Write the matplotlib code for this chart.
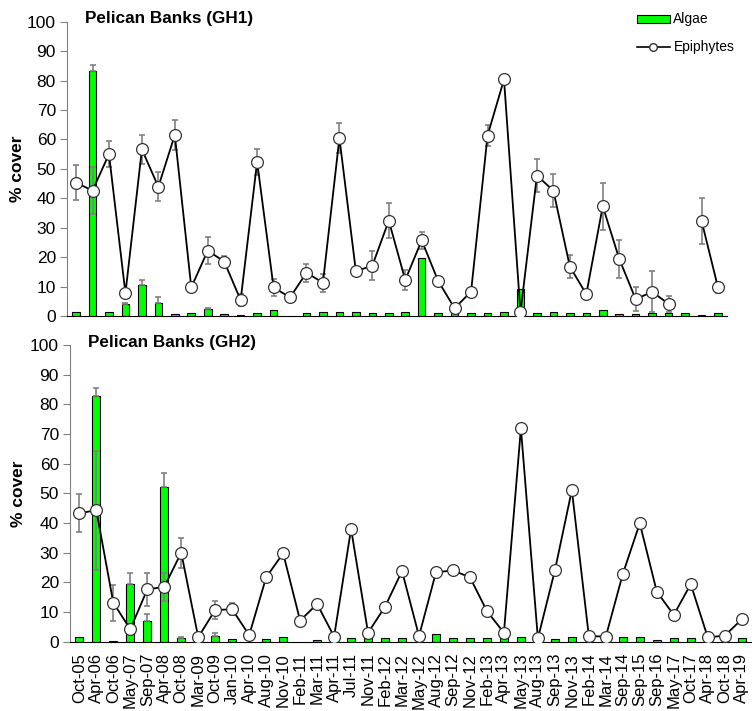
import numpy as np
import matplotlib
matplotlib.use("Agg")
import matplotlib.pyplot as plt
from matplotlib.patches import Patch
from matplotlib.lines import Line2D

plt.rcParams['font.family'] = ['Liberation Sans', 'DejaVu Sans']

dates = ["Oct-05", "Apr-06", "Oct-06", "May-07", "Sep-07", "Apr-08", "Oct-08", "Mar-09",
         "Oct-09", "Jan-10", "Apr-10", "Aug-10", "Nov-10", "Feb-11", "Mar-11", "Apr-11",
         "Jul-11", "Nov-11", "Feb-12", "Mar-12", "May-12", "Aug-12", "Sep-12", "Nov-12",
         "Feb-13", "Apr-13", "May-13", "Aug-13", "Sep-13", "Nov-13", "Feb-14", "Mar-14",
         "Sep-14", "Sep-15", "Sep-16", "May-17", "Oct-17", "Apr-18", "Oct-18", "Apr-19"]

nan = np.nan
# GH1
gh1_algae = [1.5, 83.2, 1.5, 4.0, 10.5, 4.5, 0.5, 0.9, 2.3, 0.5, 0.4, 0.9, 2.0, nan, 1.1, 1.5,
             1.5, 1.5, 0.9, 0.9, 1.2, 19.8, 0.9, 0.9, 0.9, 1.1, 1.5, 9.2, 0.9, 1.5, 0.9, 0.9,
             2.0, 0.5, 0.5, 0.9, 0.9, 0.9, 0.3, 0.9]
gh1_algae_err = [0, 2.2, 0, 0.5, 1.7, 2.0, 0, 0, 0.5, 0, 0, 0, 0, 0, 0, 0,
                 0, 0, 0, 0, 0, 0, 0, 0, 0, 0, 0, 0, 0, 0, 0, 0,
                 0, 0, 0, 0, 0, 0, 0, 0]
gh1_epi = [45.3, 42.6, 55.0, 7.7, 56.6, 43.9, 61.5, 9.7, 22.2, 18.5, 5.4, 52.4, 9.7, 6.3, 14.7, 11.3,
           60.5, 15.2, 17.1, 32.4, 12.2, 25.7, 11.9, 2.6, 8.3, 61.3, 80.4, 1.2, 47.7, 42.6, 16.8, 7.4,
           37.3, 19.4, 5.7, 8.2, 4.1, nan, 32.4, 9.7]
gh1_epi_err = [6.0, 8.0, 4.5, 1.0, 4.8, 5.0, 5.0, 0, 4.6, 2.0, 2.0, 4.5, 2.8, 0, 3.0, 3.0,
               5.0, 1.5, 5.0, 6.0, 3.5, 3.0, 0, 0, 0, 3.5, 0, 0, 5.6, 5.5, 4.0, 1.5,
               8.0, 6.4, 4.0, 7.0, 2.8, 0, 7.8, 2.0]
# GH2
gh2_algae = [1.7, 82.9, 0.2, 19.3, 7.1, 52.2, 1.1, nan, 2.0, 0.9, nan, 0.9, 1.5, nan, 0.5, nan,
             1.1, 1.1, 1.1, 1.1, nan, 2.6, 1.1, 1.1, 1.1, 1.1, 1.5, nan, 0.8, 1.5, nan, nan,
             1.7, 1.5, 0.4, 1.1, 1.1, nan, nan, 1.1]
gh2_algae_err = [0, 2.7, 0, 4.0, 2.2, 4.7, 0.5, 0, 1.0, 0, 0, 0, 0, 0, 0, 0,
                 0, 0, 0, 0, 0, 0, 0, 0, 0, 0, 0, 0, 0, 0, 0, 0,
                 0, 0, 0, 0, 0, 0, 0, 0]
gh2_epi = [43.3, 44.3, 13.1, 4.2, 17.6, 18.5, 30.0, 1.5, 10.7, 10.9, 2.2, 21.7, 29.8, 7.1, 12.7, 1.7,
           38.0, 3.0, 11.8, 23.8, 1.9, 23.4, 24.0, 21.7, 10.3, 3.0, 71.9, 1.1, 24.0, 51.1, 1.9, 1.7,
           22.8, 39.9, 16.9, 9.0, 19.4, 1.5, 2.0, 7.5]
gh2_epi_err = [6.5, 20.0, 6.0, 0, 5.5, 4.7, 5.0, 0, 3.0, 2.0, 0, 0, 0, 0, 0, 0,
               0, 0, 0, 0, 0, 0, 0, 0, 0, 0, 0, 0, 0, 0, 0, 0,
               0, 0, 0, 0, 0, 0, 0, 0]

fig = plt.figure(figsize=(7.52, 7.11), dpi=100)
ax1 = fig.add_axes([0.0891, 0.5556, 0.8777, 0.4139])
ax2 = fig.add_axes([0.0931, 0.0975, 0.9056, 0.4173])

x = np.arange(len(dates))
GREEN = '#00FF00'
GRAY = '#808080'

def draw(ax, algae, aerr, epi, eerr, title, show_x, lab_x):
    algae = np.array(algae, dtype=float)
    aerr = np.array(aerr, dtype=float)
    epi = np.array(epi, dtype=float)
    eerr = np.array(eerr, dtype=float)
    ax.bar(x, algae, width=0.46, color=GREEN, edgecolor='black', linewidth=0.8, zorder=2)
    m = aerr > 0
    ax.errorbar(x[m], algae[m], yerr=[np.zeros(m.sum()), aerr[m]], fmt='none',
                ecolor=GRAY, elinewidth=1.2, capsize=2.5, capthick=1.2, zorder=3)
    m2 = (eerr > 0) & ~np.isnan(epi)
    ax.errorbar(x[m2], epi[m2], yerr=eerr[m2], fmt='none',
                ecolor=GRAY, elinewidth=1.2, capsize=2.5, capthick=1.2, zorder=3)
    ax.plot(x, epi, color='black', linewidth=1.3, marker='o', markersize=8.5,
            markerfacecolor='white', markeredgecolor='#333333', markeredgewidth=0.9, zorder=4)
    ax.set_xlim(-0.55, len(dates) - 0.45)
    ax.set_ylim(0, 100)
    ax.set_yticks(np.arange(0, 101, 10))
    ax.tick_params(axis='y', labelsize=12.5, length=5, color=GRAY, direction='out', pad=3)
    ax.spines['top'].set_visible(False)
    ax.spines['right'].set_visible(False)
    ax.spines['left'].set_color(GRAY)
    ax.spines['bottom'].set_color('black')
    ax.set_ylabel('% cover', fontsize=12.5, fontweight='bold')
    ax.yaxis.set_label_coords(lab_x, 0.5)
    ax.text(0.027, 1.01, title, transform=ax.transAxes, fontsize=12.3, fontweight='bold',
            va='center', ha='left')
    if show_x:
        ax.set_xticks(x)
        ax.set_xticklabels(dates, rotation=90, fontsize=12)
        ax.tick_params(axis='x', length=0, pad=8)
    else:
        ax.set_xticks([])

draw(ax1, gh1_algae, gh1_algae_err, gh1_epi, gh1_epi_err, 'Pelican Banks (GH1)', False, -0.063)
draw(ax2, gh2_algae, gh2_algae_err, gh2_epi, gh2_epi_err, 'Pelican Banks (GH2)', True, -0.065)

handles = [Patch(facecolor=GREEN, edgecolor='black', linewidth=0.8),
           Line2D([], [], color='black', linewidth=1.2, marker='o', markersize=5.5,
                  markerfacecolor='white', markeredgecolor='#333333')]
fig.legend(handles, ['Algae', 'Epiphytes'], loc='upper left', bbox_to_anchor=(0.83, 1.0),
           frameon=False, fontsize=10, handlelength=2.4, handleheight=0.5,
           handletextpad=0.25, labelspacing=1.0)

fig.savefig('out.png', dpi=100)
